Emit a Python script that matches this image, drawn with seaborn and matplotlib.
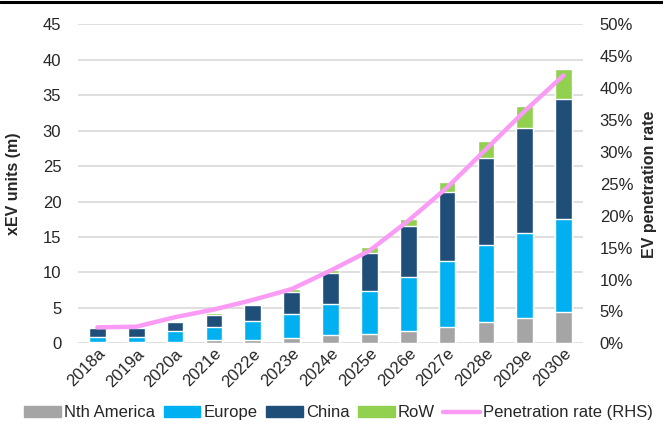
import numpy as np
import pandas as pd
import matplotlib
matplotlib.use("Agg")
import matplotlib.pyplot as plt
from matplotlib.lines import Line2D
from matplotlib.patches import Patch
from matplotlib.ticker import PercentFormatter
import seaborn as sns

# data
years = ["2018a", "2019a", "2020a", "2021e", "2022e", "2023e", "2024e",
         "2025e", "2026e", "2027e", "2028e", "2029e", "2030e"]
nth_america = [0.25, 0.25, 0.25, 0.5, 0.5, 0.75, 1.15, 1.3, 1.7, 2.3, 3.0, 3.6, 4.4]
europe = [0.6, 0.6, 1.45, 1.85, 2.65, 3.45, 4.45, 6.1, 7.6, 9.3, 10.9, 11.9, 13.2]
china = [1.25, 1.25, 1.3, 1.7, 2.25, 3.1, 4.25, 5.4, 7.2, 9.7, 12.3, 14.9, 16.9]
row = [0.2, 0.2, 0.15, 0.2, 0.2, 0.4, 0.45, 0.8, 1.05, 1.4, 2.3, 3.1, 4.2]
penetration = [2.5, 2.6, 4.1, 5.3, 6.8, 8.5, 11.4, 14.5, 19.2, 24.4, 30.4, 36.4, 42.0]

series = ["Nth America", "Europe", "China", "RoW"]
colors = {"Nth America": "#A5A5A5", "Europe": "#00B0F0",
          "China": "#1F4E79", "RoW": "#92D050"}
line_color = "#FA9BF5"

df = pd.DataFrame({"year": years, "Nth America": nth_america, "Europe": europe,
                   "China": china, "RoW": row, "rate": penetration})

sns.set_style("white")
plt.rcParams["font.family"] = ["Liberation Sans", "DejaVu Sans"]
plt.rcParams["font.size"] = 12

fig = plt.figure(figsize=(6.63, 4.32), dpi=100)
ax = fig.add_axes([0.1176, 0.2053, 0.8793 - 0.1176, 0.9437 - 0.2053])

# stacked bars: draw cumulative totals from the top layer down
cum = df[series].cumsum(axis=1)
for name in reversed(series):
    sns.barplot(x=df["year"], y=cum[name], color=colors[name], saturation=1,
                width=0.43, errorbar=None, ax=ax, zorder=2)

ax.set_ylim(0, 45)
ax.set_yticks(np.arange(0, 46, 5))
ax.set_xlim(-0.5, len(years) - 0.5)
ax.yaxis.grid(True, color="#D9D9D9", lw=1.2, zorder=0)
ax.set_axisbelow(True)
ax.set_xlabel("")
ax.set_ylabel("xEV units (m)", fontsize=11.5, fontweight="bold")
ax.yaxis.set_label_coords(-0.112, 0.5)
ax.tick_params(axis="y", length=0, pad=12, labelsize=12)
ax.tick_params(axis="x", length=0, pad=2, labelsize=12)
plt.setp(ax.get_xticklabels(), rotation=45, ha="right", rotation_mode="anchor")
for s in ax.spines.values():
    s.set_visible(False)

ax2 = ax.twinx()
sns.lineplot(x=df["year"], y=df["rate"], color=line_color, lw=3.2,
             sort=False, ax=ax2)
ax2.set_ylim(0, 50)
ax2.set_yticks(np.arange(0, 51, 5))
ax2.yaxis.set_major_formatter(PercentFormatter(decimals=0))
ax2.tick_params(axis="y", length=0, pad=12, labelsize=12)
ax2.set_ylabel("EV penetration rate", fontsize=11.5, fontweight="bold")
ax2.yaxis.set_label_coords(1.117, 0.5)
ax2.set_xlim(-0.5, len(years) - 0.5)
for s in ax2.spines.values():
    s.set_visible(False)

handles = [Patch(color=colors[n]) for n in series]
handles.append(Line2D([], [], color=line_color, lw=3.2))
fig.legend(handles, series + ["Penetration rate (RHS)"], loc="center",
           bbox_to_anchor=(0.511, 0.044), ncol=5, frameon=False, fontsize=12,
           handlelength=2.2, handletextpad=0.2, columnspacing=0.5)

# thin black rule across the top
fig.add_artist(Line2D([0, 1], [1 - 1.5 / 432, 1 - 1.5 / 432], color="black",
                      lw=2.2, transform=fig.transFigure))

fig.savefig("out.png", dpi=100)
